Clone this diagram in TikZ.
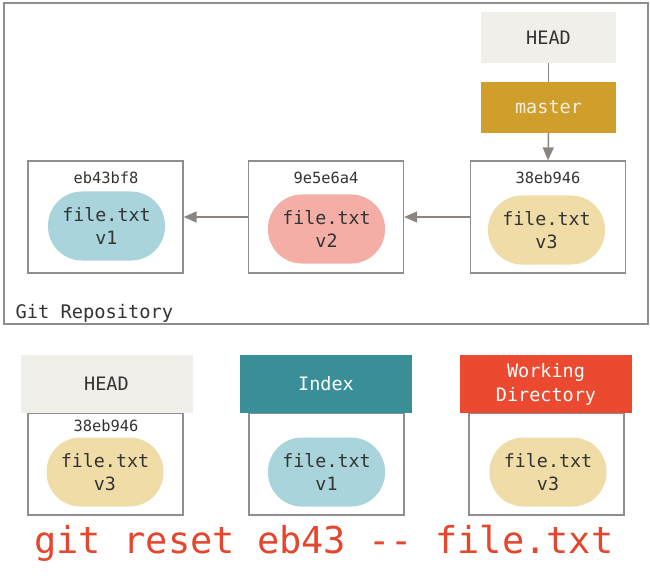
\documentclass[tikz,border=0pt]{standalone}
\usepackage{fontspec}
\setmonofont{DejaVu Sans Mono}
\usetikzlibrary{arrows.meta}
\definecolor{boxline}{HTML}{8E8E8E}
\definecolor{arrowcol}{HTML}{8A8580}
\definecolor{headfill}{HTML}{F0EFE9}
\definecolor{masterfill}{HTML}{D09E2B}
\definecolor{masterText}{HTML}{F7F0E0}
\definecolor{vone}{HTML}{A9D4DB}
\definecolor{vtwo}{HTML}{F4AEA6}
\definecolor{vthree}{HTML}{F0DCA6}
\definecolor{indexfill}{HTML}{3A8E98}
\definecolor{wdfill}{HTML}{EC4A30}
\definecolor{cmdred}{HTML}{E5462E}
\definecolor{txt}{HTML}{333333}
\begin{document}
\begin{tikzpicture}[x=1pt,y=-1pt,
  commitbox/.style={draw=boxline,line width=1.3pt,fill=white,minimum width=155pt,minimum height=112pt,inner sep=0pt},
  bodybox/.style={draw=boxline,line width=1.3pt,fill=white,minimum width=155pt,minimum height=102pt,inner sep=0pt},
  blob/.style={rounded corners=34pt,minimum width=117pt,minimum height=69pt,inner sep=0pt,align=center,
    font=\fontsize{18.3}{22.5}\ttfamily,text=txt},
  hashlbl/.style={font=\fontsize{15.4}{18}\ttfamily,text=txt},
  refbox/.style={minimum width=135pt,minimum height=51pt,inner sep=0pt,font=\fontsize{18.5}{22}\ttfamily},
  hdrbox/.style={minimum width=172pt,minimum height=58pt,inner sep=0pt,align=center,font=\fontsize{18.5}{24}\ttfamily},
  conn/.style={draw=arrowcol,line width=1.5pt},
  arr/.style={conn,-{Triangle[length=13pt,width=11pt]}}]
\useasboundingbox (0,0) rectangle (650,580);
\fill[white] (0,0) rectangle (650,580);

% repository frame
\draw[boxline,line width=1.3pt] (4,3) rectangle (648,324);
\node[anchor=base west,font=\fontsize{18.7}{22}\ttfamily,text=txt] (repolbl) at (12,318) {Git Repository};

% commits
\node[commitbox] (c1) at (105.5,217) {};
\node[commitbox] (c2) at (326,217) {};
\node[commitbox] (c3) at (548,217) {};
\node[hashlbl] (h1) at (106,178) {eb43bf8};
\node[hashlbl] (h2) at (326,178) {9e5e6a4};
\node[hashlbl] (h3) at (548,178) {38eb946};
\node[blob,fill=vone] (b1) at (106.5,226) {file.txt\\v1};
\node[blob,fill=vtwo] (b2) at (326.5,229) {file.txt\\v2};
\node[blob,fill=vthree] (b3) at (546.5,230) {file.txt\\v3};

\draw[arr] (c2.west) -- (c1.east);
\draw[arr] (c3.west) -- (c2.east);

% refs
\node[refbox,fill=headfill,text=txt] (head) at (548.5,37.5) {HEAD};
\node[refbox,fill=masterfill,text=masterText] (master) at (548.5,107.5) {master};
\draw[conn] (head.south) -- (master.north);
\draw[arr] (master.south) -- (c3.north);

% three trees
\node[bodybox] (hb) at (105.5,464) {};
\node[bodybox] (ib) at (326.5,464) {};
\node[bodybox] (wb) at (546.5,464) {};
\node[hdrbox,fill=headfill,text=txt] (hh) at (106.5,384) {HEAD};
\node[hdrbox,fill=indexfill,text=white] (ih) at (326,384) {Index};
\node[hdrbox,fill=wdfill,text=white] (wh) at (546,384) {Working\\Directory};
\node[hashlbl] (h4) at (106,426) {38eb946};
\node[blob,fill=vthree] (b4) at (105,472) {file.txt\\v3};
\node[blob,fill=vone] (b5) at (326.5,472) {file.txt\\v1};
\node[blob,fill=vthree] (b6) at (548,472) {file.txt\\v3};

% command
\node[anchor=base,font=\fontsize{37}{40}\ttfamily,text=cmdred,inner sep=0pt] (cmd) at (324,553) {git reset eb43 -{}- file.txt};
\end{tikzpicture}
\end{document}
